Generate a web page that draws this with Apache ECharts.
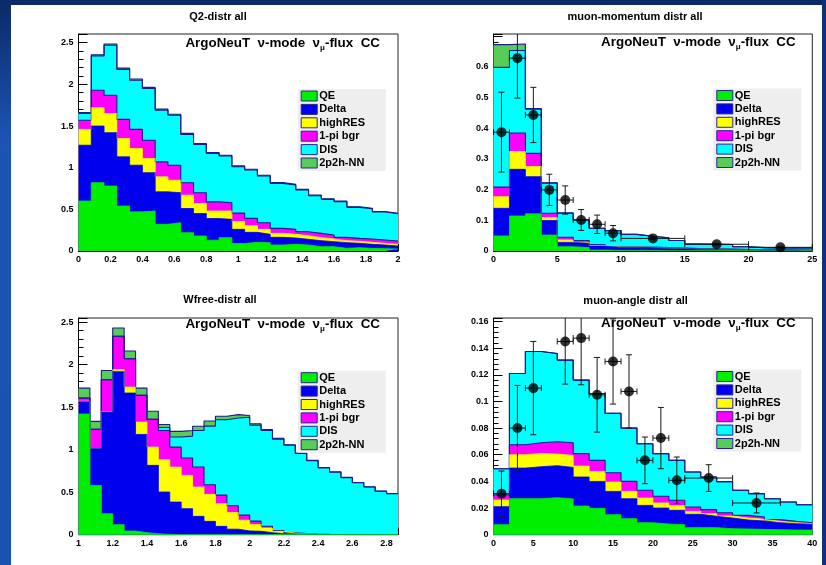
<!DOCTYPE html>
<html>
<head>
<meta charset="utf-8">
<title>ArgoNeuT CC distributions</title>
<script src="https://cdn.jsdelivr.net/npm/echarts@6/dist/echarts.min.js"></script>
<style>
  html, body { margin: 0; padding: 0; background: #fff; }
  #wrap { position: relative; width: 826px; height: 565px; overflow: hidden; background: #fff; }
  #topbar { position: absolute; left: 0; top: 0; width: 826px; height: 5px; background: #0b2a68; }
  #leftbar { position: absolute; left: 0; top: 0; width: 11px; height: 565px;
             background: linear-gradient(#0b2a68 0px, #1c54b4 140px, #1a52b2 565px); }
  #rightbar { position: absolute; left: 822px; top: 0; width: 4px; height: 565px; background: #0e3278; }
  #chart { position: absolute; left: 0; top: 0; width: 826px; height: 565px; }
</style>
</head>
<body>
<div id="wrap">
  <div id="topbar"></div>
  <div id="leftbar"></div>
  <div id="rightbar"></div>
  <div id="chart"></div>
</div>
<script>
// ---------------- data ----------------
const channelNames = ['QE', 'Delta', 'highRES', '1-pi bgr', 'DIS', '2p2h-NN'];

// Q2 distribution: 25 bins of 0.08 starting at 0
const q2Start = 0, q2BinWidth = 0.08;
const q2QE      = [0.60,0.82,0.78,0.54,0.47,0.48,0.32,0.34,0.22,0.18,0.13,0.16,0.09,0.104,0.10,0.072,0.08,0.072,0.052,0.052,0.032,0.04,0.032,0.028,0.024];
const q2Delta   = [0.67,0.68,0.64,0.59,0.56,0.46,0.39,0.36,0.29,0.27,0.26,0.22,0.17,0.12,0.10,0.092,0.076,0.068,0.072,0.06,0.068,0.052,0.048,0.044,0.036];
const q2HighRES = [0.19,0.22,0.23,0.22,0.20,0.17,0.18,0.15,0.16,0.12,0.09,0.10,0.095,0.08,0.06,0.048,0.044,0.044,0.036,0.032,0.024,0.024,0.024,0.02,0.02];
const q2OnePi   = [0.11,0.21,0.22,0.23,0.23,0.22,0.18,0.18,0.15,0.13,0.11,0.10,0.10,0.088,0.08,0.06,0.06,0.048,0.052,0.048,0.04,0.036,0.04,0.04,0.04];
const q2DIS     = [0.08,0.41,0.60,0.60,0.59,0.62,0.62,0.60,0.58,0.58,0.58,0.56,0.557,0.58,0.56,0.54,0.532,0.50,0.452,0.428,0.428,0.372,0.364,0.336,0.328];
const q2MEC     = [0.012,0.015,0.015,0.015,0.015,0.014,0.013,0.012,0.012,0.011,0.011,0.01,0.01,0.01,0.009,0.009,0.008,0.008,0.008,0.007,0.007,0.007,0.006,0.006,0.006];

// muon momentum: 20 bins of 1.25 starting at 0
const pmuStart = 0, pmuBinWidth = 1.25;
const pmuQE      = [0.049,0.114,0.121,0.052,0.014,0.011,0.003,0.002,0.002,0.002,0.001,0.001,0.001,0.001,0.001,0.001,0,0,0,0];
const pmuDelta   = [0.090,0.152,0.121,0.047,0.014,0.014,0.013,0.010,0.010,0.009,0.009,0.008,0.006,0.006,0.005,0.004,0.004,0.004,0.004,0.003];
const pmuHighRES = [0.038,0.058,0.033,0.010,0.008,0.003,0.002,0.001,0.001,0.001,0,0,0,0,0,0,0,0,0,0];
const pmuOnePi   = [0.031,0.060,0.043,0.014,0.009,0.006,0.003,0.001,0.001,0.001,0.001,0.001,0.001,0,0,0,0,0,0,0];
const pmuDIS     = [0.390,0.269,0.144,0.098,0.078,0.067,0.053,0.052,0.040,0.035,0.032,0.024,0.015,0.015,0.015,0.009,0.007,0.006,0.006,0.007];
const pmuMEC     = [0.074,0.021,0.002,0.001,0.001,0.001,0,0,0,0,0,0,0,0,0,0,0,0,0,0];
const pmuDataX   = [0.625,1.875,3.125,4.375,5.625,6.875,8.125,9.375,12.5,17.5,22.5];
const pmuDataY   = [0.387,0.628,0.443,0.199,0.166,0.101,0.087,0.058,0.041,0.022,0.012];
const pmuErrY    = [0.13,0.13,0.09,0.051,0.046,0.034,0.03,0.025,0.004,0.003,0.002];
const pmuErrX    = [0.625,0.625,0.625,0.625,0.625,0.625,0.625,0.625,2.5,2.5,2.5];

// W (free nucleon): 28 bins of 1/15 starting at 1
const wStart = 1, wBinWidth = 1 / 15;
const wQE      = [1.42,0.58,0.247,0.118,0.043,0.024,0.012,0.004,0,0,0,0,0,0,0,0,0,0,0,0,0,0,0,0,0,0,0,0];
const wDelta   = [0.145,0.44,1.196,1.80,1.624,1.156,0.804,0.498,0.384,0.306,0.216,0.157,0.098,0.065,0.045,0.04,0.024,0.012,0.008,0.005,0.003,0.002,0.002,0.001,0.001,0.001,0.001,0.001];
const wHighRES = [0.005,0,0.005,0.025,0.07,0.145,0.215,0.38,0.412,0.392,0.345,0.318,0.267,0.195,0.125,0.08,0.054,0.028,0.01,0.005,0.002,0.001,0,0,0,0,0,0];
const wOnePi   = [0.038,0.22,0.376,0.392,0.334,0.314,0.326,0.345,0.235,0.204,0.235,0.113,0.101,0.08,0.06,0.04,0.022,0.01,0.005,0.003,0.002,0.001,0.001,0,0,0,0,0];
const wDIS     = [0,0,0,0,0,0,0,0.035,0.118,0.258,0.43,0.69,0.887,1.033,1.152,1.13,1.127,1.075,1.03,0.942,0.863,0.781,0.732,0.669,0.61,0.56,0.51,0.48];
const wMEC     = [0.117,0.093,0.109,0.098,0.09,0.086,0.096,0.035,0.067,0.067,0.05,0.06,0.04,0.04,0.02,0.015,0.01,0.008,0.005,0.005,0.005,0.005,0.005,0.005,0.004,0.004,0.004,0.004];

// muon angle: 20 bins of 2 degrees starting at 0
const angStart = 0, angBinWidth = 2;
const angQE      = [0.0075,0.027,0.027,0.0278,0.0268,0.0215,0.0198,0.015,0.012,0.009,0.008,0.0075,0.0053,0.0053,0.0045,0.0043,0.004,0.0038,0.0035,0.0035];
const angDelta   = [0.0135,0.023,0.024,0.024,0.0237,0.0218,0.0202,0.0175,0.015,0.013,0.012,0.0108,0.010,0.0085,0.008,0.0067,0.0063,0.0052,0.0048,0.0043];
const angHighRES = [0.005,0.010,0.010,0.0087,0.009,0.0082,0.0075,0.007,0.0055,0.0055,0.0038,0.0035,0.0022,0.002,0.0015,0.0015,0.0012,0.001,0.0007,0.0005];
const angOnePi   = [0.004,0.0075,0.008,0.0093,0.0095,0.0093,0.0083,0.007,0.0075,0.0058,0.005,0.004,0.0033,0.003,0.0025,0.002,0.0018,0.0013,0.001,0.0007];
const angDIS     = [0.0195,0.0535,0.0685,0.0662,0.062,0.0552,0.0502,0.0445,0.040,0.035,0.032,0.030,0.0262,0.0245,0.0233,0.0188,0.0175,0.0157,0.0145,0.0135];
const angMEC     = [0,0,0,0,0,0,0,0,0,0,0,0,0,0,0,0,0,0,0,0];
const angDataX   = [1,3,5,9,11,13,15,17,19,21,23,27,33];
const angDataY   = [0.0308,0.080,0.110,0.145,0.1475,0.105,0.130,0.1075,0.0558,0.0725,0.0408,0.0425,0.0238];
const angErrY    = [0.017,0.032,0.035,0.032,0.035,0.028,0.032,0.0275,0.0175,0.023,0.0175,0.010,0.0075];
const angErrX    = [1,1,1,1,1,1,1,1,1,1,1,3,3];

// ---------------- styling ----------------
const FONT = '"Liberation Sans", Arial, Helvetica, sans-serif';
const fills = ['#00ee00', '#0000ee', '#ffff00', '#ff00ff', '#00ffff', '#58cc58'];
const OUTLINE = '#1c1c8a';
const lineColors = ['#00ee00', '#0000ee', '#ffff00', OUTLINE, OUTLINE, OUTLINE];
const NOTE = '{m|ArgoNeuT  \u03bd-mode  \u03bd}{s|\u03bc}{m|-flux  CC}';

const panels = [
  { grid: { left: 78.5, top: 34, width: 319.5, height: 217 },
    x: { min: 0, max: 2, interval: 0.2 }, y: { min: 0, max: 2.605, interval: 0.5 }, yLabelCap: 2.5,
    start: q2Start, bw: q2BinWidth, layers: [q2QE, q2Delta, q2HighRES, q2OnePi, q2DIS, q2MEC],
    points: null, title: 'Q2-distr all', titleAt: [218, 17], noteAt: [380, 43], legendAt: [297.7, 89] },
  { grid: { left: 493.5, top: 34, width: 318.8, height: 217 },
    x: { min: 0, max: 25, interval: 5 }, y: { min: 0, max: 0.7066, interval: 0.1 }, yLabelCap: 0.6,
    start: pmuStart, bw: pmuBinWidth, layers: [pmuQE, pmuDelta, pmuHighRES, pmuOnePi, pmuDIS, pmuMEC],
    points: { x: pmuDataX, y: pmuDataY, ex: pmuErrX, ey: pmuErrY },
    title: 'muon-momentum distr all', titleAt: [635, 17], noteAt: [795.7, 42], legendAt: [713.3, 88.5] },
  { grid: { left: 78.5, top: 318, width: 319.5, height: 216.7 },
    x: { min: 1, max: 1 + 28 / 15, interval: 0.2 }, y: { min: 0, max: 2.55, interval: 0.5 }, yLabelCap: 2.5,
    start: wStart, bw: wBinWidth, layers: [wQE, wDelta, wHighRES, wOnePi, wDIS, wMEC],
    points: null, title: 'Wfree-distr all', titleAt: [220, 300], noteAt: [380, 324.3], legendAt: [297.7, 370.7] },
  { grid: { left: 493.5, top: 318, width: 318.8, height: 216.7 },
    x: { min: 0, max: 40, interval: 5 }, y: { min: 0, max: 0.1626, interval: 0.02 }, yLabelCap: 0.16,
    start: angStart, bw: angBinWidth, layers: [angQE, angDelta, angHighRES, angOnePi, angDIS, angMEC],
    points: { x: angDataX, y: angDataY, ex: angErrX, ey: angErrY },
    title: 'muon-angle distr all', titleAt: [635.6, 300.5], noteAt: [795.7, 323.5], legendAt: [713.3, 369.5] }
];

// ---------------- option building ----------------
const grids = [], xAxes = [], yAxes = [], series = [], graphics = [];

function tickText(v) {
  return String(+v.toFixed(6));
}

function axisBase(k, range, tickLen, minorLen, labelCap) {
  return {
    gridIndex: k, type: 'value', min: range.min, max: range.max, interval: range.interval,
    axisLine: { show: true, onZero: false, lineStyle: { color: '#000', width: 1 } },
    axisTick: { show: true, inside: true, length: tickLen, lineStyle: { color: '#000', width: 1 } },
    minorTick: { show: true, splitNumber: 5, length: minorLen, lineStyle: { color: '#000', width: 1 } },
    splitLine: { show: false }, minorSplitLine: { show: false },
    axisLabel: { show: true, fontSize: 9, fontWeight: 'bold', fontFamily: FONT, color: '#000',
                 margin: 4, hideOverlap: false,
                 formatter: function (v) { return v > labelCap + 1e-9 ? '' : tickText(v); } }
  };
}

panels.forEach((p, k) => {
  grids.push(Object.assign({ show: true, borderColor: '#222', borderWidth: 1,
                             backgroundColor: 'transparent', containLabel: false,
                             outerBoundsMode: 'none' }, p.grid));
  const xCap = p.x.min + Math.floor((p.x.max - p.x.min) / p.x.interval + 1e-6) * p.x.interval;
  xAxes.push(axisBase(k, p.x, 7, 4, xCap));
  const yA = axisBase(k, p.y, 9, 5, p.yLabelCap);
  yA.axisLabel.margin = 5;
  yAxes.push(yA);

  // cumulative stack of the channels
  const n = p.layers[0].length;
  const cum = [];
  p.layers.forEach((arr, j) => {
    cum.push(arr.map((v, i) => v + (j > 0 ? cum[j - 1][i] : 0)));
  });
  // draw from the full stack downward so each lower channel covers the one above
  for (let j = p.layers.length - 1; j >= 0; j--) {
    const pts = [];
    for (let i = 0; i < n; i++) pts.push([p.start + i * p.bw, cum[j][i]]);
    pts.push([p.start + n * p.bw, cum[j][n - 1]]);
    series.push({
      type: 'line', name: channelNames[j], xAxisIndex: k, yAxisIndex: k,
      step: 'end', symbol: 'none', showSymbol: false, silent: true, animation: false,
      data: pts,
      lineStyle: { color: lineColors[j], width: j >= 3 ? 1.1 : 0.8 },
      itemStyle: { color: fills[j] },
      areaStyle: { color: fills[j], opacity: 1, origin: 'start' },
      z: 2
    });
  }

  if (p.points) {
    const yTop = p.y.max;
    const errData = p.points.x.map((x, i) => [x, p.points.y[i], p.points.ex[i], p.points.ey[i]]);
    series.push({
      type: 'custom', xAxisIndex: k, yAxisIndex: k, silent: true, animation: false, z: 5,
      data: errData,
      renderItem: function (params, api) {
        const x = api.value(0), y = api.value(1), ex = api.value(2), ey = api.value(3);
        const lo = api.coord([x, Math.max(0, y - ey)]);
        const hi = api.coord([x, Math.min(yTop, y + ey)]);
        const l = api.coord([x - ex, y]);
        const r = api.coord([x + ex, y]);
        const cap = 3;
        const st = { stroke: '#1a1a1a', lineWidth: 1 };
        const kids = [
          { type: 'line', shape: { x1: lo[0], y1: lo[1], x2: hi[0], y2: hi[1] }, style: st },
          { type: 'line', shape: { x1: l[0], y1: l[1], x2: r[0], y2: r[1] }, style: st },
          { type: 'line', shape: { x1: lo[0] - cap, y1: lo[1], x2: lo[0] + cap, y2: lo[1] }, style: st },
          { type: 'line', shape: { x1: l[0], y1: l[1] - cap, x2: l[0], y2: l[1] + cap }, style: st },
          { type: 'line', shape: { x1: r[0], y1: r[1] - cap, x2: r[0], y2: r[1] + cap }, style: st }
        ];
        if (y + ey < yTop) {
          kids.push({ type: 'line', shape: { x1: hi[0] - cap, y1: hi[1], x2: hi[0] + cap, y2: hi[1] }, style: st });
        }
        return { type: 'group', children: kids };
      }
    });
    series.push({
      type: 'scatter', xAxisIndex: k, yAxisIndex: k, silent: true, animation: false, z: 6,
      symbol: 'circle', symbolSize: 10,
      itemStyle: { color: '#000' },
      data: p.points.x.map((x, i) => [x, p.points.y[i]])
    });
  }

  // panel title
  graphics.push({ type: 'text', x: p.titleAt[0], y: p.titleAt[1], silent: true,
    style: { text: p.title, font: 'bold 11px ' + FONT, fill: '#000', align: 'center', verticalAlign: 'middle' } });
  // experiment label
  graphics.push({ type: 'text', x: p.noteAt[0], y: p.noteAt[1], silent: true, z: 20,
    style: { text: NOTE, align: 'right', verticalAlign: 'middle',
      rich: {
        m: { fontSize: 13.4, fontWeight: 'bold', fontFamily: FONT, fill: '#000', lineHeight: 17 },
        s: { fontSize: 8, fontWeight: 'bold', fontFamily: FONT, fill: '#000', lineHeight: 8, verticalAlign: 'bottom' }
      } } });
  // legend box
  const lx = p.legendAt[0], ly = p.legendAt[1];
  graphics.push({ type: 'rect', silent: true, z: 20, shape: { x: lx, y: ly, width: 88, height: 82 },
    style: { fill: '#eeeeee' } });
  channelNames.forEach((nm, i) => {
    const cy = ly + 7 + i * 13.4;
    graphics.push({ type: 'rect', silent: true, z: 21, shape: { x: lx + 3.5, y: cy - 5, width: 16, height: 10 },
      style: { fill: fills[i], stroke: '#26268a', lineWidth: 1 } });
    graphics.push({ type: 'text', silent: true, z: 21, x: lx + 21.5, y: cy,
      style: { text: nm, font: 'bold 11px ' + FONT, fill: '#000', align: 'left', verticalAlign: 'middle' } });
  });
});

const chart = echarts.init(document.getElementById('chart'), null, { renderer: 'canvas' });
chart.setOption({
  animation: false,
  backgroundColor: 'transparent',
  grid: grids,
  xAxis: xAxes,
  yAxis: yAxes,
  series: series,
  graphic: { elements: graphics }
});
</script>
</body>
</html>
